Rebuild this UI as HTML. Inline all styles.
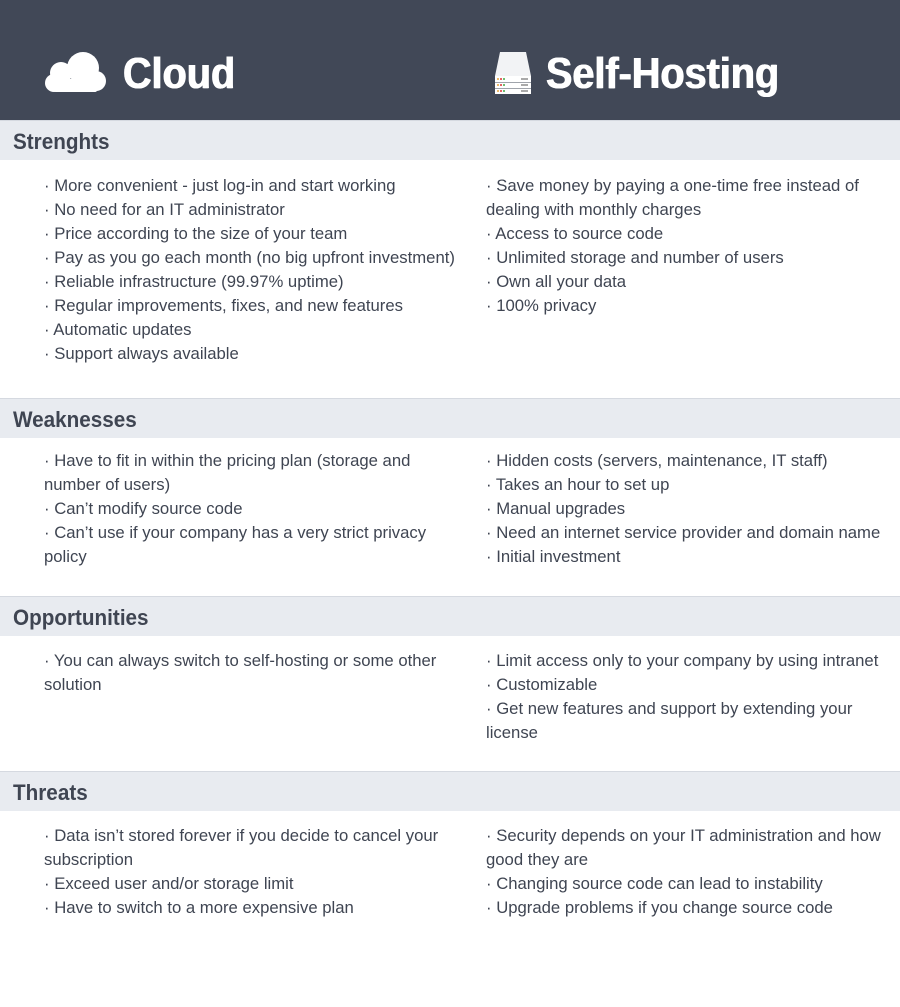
<!DOCTYPE html>
<html><head><meta charset="utf-8"><style>
*{margin:0;padding:0;box-sizing:border-box}
body{width:900px;height:1007px;background:#fff;position:relative;overflow:hidden;font-family:"Liberation Sans",sans-serif;color:#3f4552}
.hdr{position:absolute;left:0;top:0;width:900px;height:120px;background:#414857}
.title{position:absolute;top:50px;font-family:"Liberation Sans",sans-serif;font-weight:bold;font-size:44px;color:#fff;line-height:48px;transform:scaleX(0.9);transform-origin:left top;text-shadow:0.6px 0 0 #fff,-0.6px 0 0 #fff}
.band{position:absolute;left:0;width:900px;height:40px;background:#e8ebf0;border-top:1px solid #d5d9e0}
.band span{position:absolute;left:13px;top:8px;font-weight:bold;font-size:22px;color:#3f4552;transform:scaleX(0.94);transform-origin:left top;display:inline-block;white-space:nowrap}
.col{position:absolute;font-size:16.7px;line-height:24px;color:#3f4552}
</style></head><body>
<div class="hdr"></div>
<svg style="position:absolute;left:44px;top:51px" width="63" height="42" viewBox="0 0 63 42"><g fill="#fff"><circle cx="17" cy="22" r="11"/><circle cx="39" cy="17" r="16"/><circle cx="52" cy="30" r="10"/><circle cx="10" cy="32" r="9"/><rect x="10" y="28" width="43" height="13" rx="2"/></g></svg>
<div class="title" style="left:123px">Cloud</div>
<svg style="position:absolute;left:494px;top:52px" width="38" height="42" viewBox="0 0 38 42"><path d="M6 0 H32 L37 24 H1 Z" fill="#f2f3f5"/><rect x="1" y="24" width="36" height="6" fill="#fff"/><rect x="1" y="30.5" width="36" height="5.5" fill="#fff"/><rect x="1" y="36.5" width="36" height="5.5" fill="#fff"/><g fill="#e8a33a"><circle cx="4" cy="27" r="1"/><circle cx="4" cy="33" r="1"/><circle cx="4" cy="39" r="1"/></g><g fill="#d33"><circle cx="7" cy="27" r="1"/><circle cx="7" cy="33" r="1"/><circle cx="7" cy="39" r="1"/></g><g fill="#4a4"><circle cx="10" cy="27" r="1"/><circle cx="10" cy="33" r="1"/><circle cx="10" cy="39" r="1"/></g><g fill="#aaa"><rect x="27" y="26" width="7" height="2"/><rect x="27" y="32" width="7" height="2"/><rect x="27" y="38" width="7" height="2"/></g></svg>
<div class="title" style="left:546px">Self-Hosting</div>

<div class="band" style="top:120px"><span>Strenghts</span></div>
<div class="col" style="left:44px;top:174px">· More convenient - just log-in and start working<br>· No need for an IT administrator<br>· Price according to the size of your team<br>· Pay as you go each month (no big upfront investment)<br>· Reliable infrastructure (99.97% uptime)<br>· Regular improvements, fixes, and new features<br>· Automatic updates<br>· Support always available</div>
<div class="col" style="left:486px;top:174px;width:400px">· Save money by paying a one-time free instead of dealing with monthly charges<br>· Access to source code<br>· Unlimited storage and number of users<br>· Own all your data<br>· 100% privacy</div>

<div class="band" style="top:398px"><span>Weaknesses</span></div>
<div class="col" style="left:44px;top:449px;width:400px">· Have to fit in within the pricing plan (storage and number of users)<br>· Can’t modify source code<br>· Can’t use if your company has a very strict privacy policy</div>
<div class="col" style="left:486px;top:449px;width:414px">· Hidden costs (servers, maintenance, IT staff)<br>· Takes an hour to set up<br>· Manual upgrades<br>· Need an internet service provider and domain name<br>· Initial investment</div>

<div class="band" style="top:596px"><span>Opportunities</span></div>
<div class="col" style="left:44px;top:649px;width:410px">· You can always switch to self-hosting or some other solution</div>
<div class="col" style="left:486px;top:649px;width:410px">· Limit access only to your company by using intranet<br>· Customizable<br>· Get new features and support by extending your license</div>

<div class="band" style="top:771px"><span>Threats</span></div>
<div class="col" style="left:44px;top:824px;width:405px">· Data isn’t stored forever if you decide to cancel your subscription<br>· Exceed user and/or storage limit<br>· Have to switch to a more expensive plan</div>
<div class="col" style="left:486px;top:824px;width:405px">· Security depends on your IT administration and how good they are<br>· Changing source code can lead to instability<br>· Upgrade problems if you change source code</div>
</body></html>
